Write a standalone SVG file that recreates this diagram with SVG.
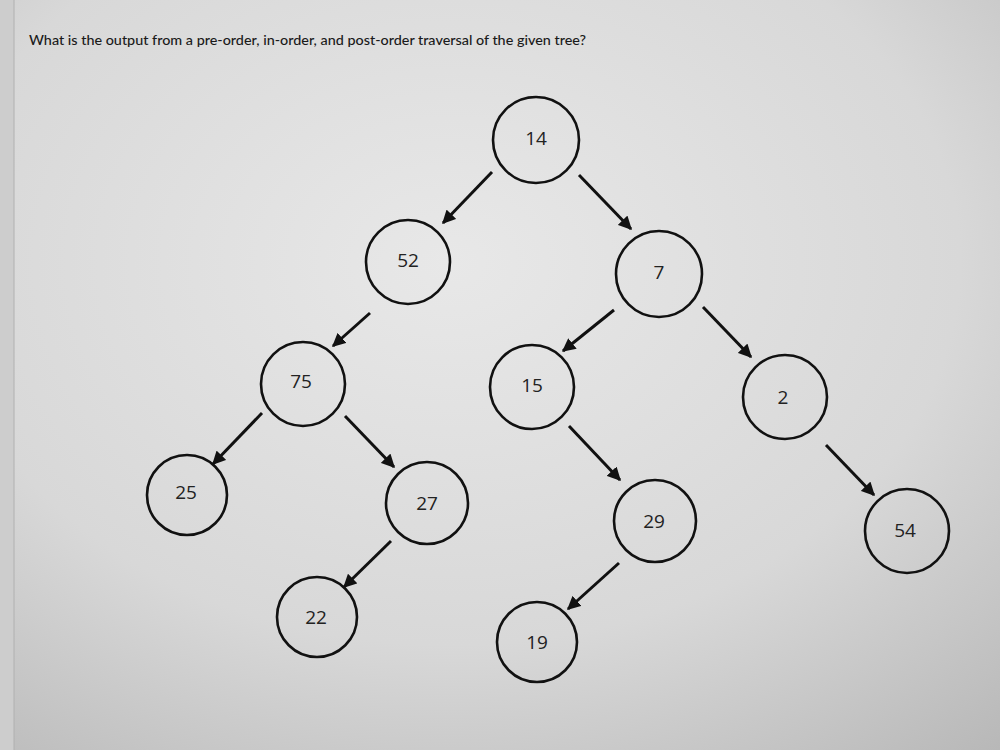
<svg xmlns="http://www.w3.org/2000/svg" width="1000" height="750" viewBox="0 0 1000 750">
  <defs>
    <radialGradient id="bg" cx="0.45" cy="0.35" r="0.85">
      <stop offset="0" stop-color="#e8e8e8"/>
      <stop offset="0.6" stop-color="#d8d8d8"/>
      <stop offset="1" stop-color="#b8b8b8"/>
    </radialGradient>
    <marker id="arr" viewBox="0 0 10 10" refX="9" refY="5" markerWidth="4.5" markerHeight="4.5" orient="auto" markerUnits="strokeWidth">
      <path d="M0,0 L10,5 L0,10 z" fill="#111"/>
    </marker>
    <style>
      .node circle { fill: none; stroke: #111; stroke-width: 2.6; }
      .node text { font-family: "Open Sans", Lato, "Liberation Sans", sans-serif; font-size: 19px; fill: #222; text-anchor: middle; dominant-baseline: central; }
      .edges line { stroke: #111; stroke-width: 3; marker-end: url(#arr); }
      .title { font-family: Lato, "Liberation Sans", sans-serif; font-size: 14px; font-weight: 500; fill: #1a1a1a; }
    </style>
  </defs>
  <rect width="1000" height="750" fill="url(#bg)"/>
  <rect x="0" y="0" width="14" height="750" fill="#cdcdcd"/>
  <line x1="14" y1="0" x2="14" y2="750" stroke="#b0b0b0" stroke-width="1"/>
  <text class="title" x="29" y="45" textLength="557" lengthAdjust="spacingAndGlyphs">What is the output from a pre-order, in-order, and post-order traversal of the given tree?</text>

  <g class="edges">
    <line x1="492" y1="172" x2="443" y2="223"/>
    <line x1="579" y1="175" x2="631" y2="229"/>
    <line x1="370" y1="313" x2="333" y2="346"/>
    <line x1="614" y1="310" x2="563" y2="351"/>
    <line x1="703" y1="307" x2="751" y2="357"/>
    <line x1="262" y1="413" x2="213" y2="464"/>
    <line x1="345" y1="416" x2="394" y2="467"/>
    <line x1="569" y1="426" x2="620" y2="480"/>
    <line x1="826" y1="445" x2="874" y2="495"/>
    <line x1="391" y1="541" x2="344" y2="587"/>
    <line x1="619" y1="563" x2="568" y2="609"/>
  </g>

  <g id="n14" class="node"><circle cx="536" cy="140" r="43"/><text x="536" y="138">14</text></g>
  <g id="n52" class="node"><circle cx="408" cy="262" r="42"/><text x="408" y="260">52</text></g>
  <g id="n7" class="node"><circle cx="659" cy="274" r="43"/><text x="659" y="272">7</text></g>
  <g id="n75" class="node"><circle cx="303" cy="384" r="42"/><text x="301" y="381">75</text></g>
  <g id="n15" class="node"><circle cx="532" cy="387" r="42"/><text x="532" y="385">15</text></g>
  <g id="n2" class="node"><circle cx="785" cy="397" r="42"/><text x="783" y="397">2</text></g>
  <g id="n25" class="node"><circle cx="187" cy="495" r="40"/><text x="186" y="492">25</text></g>
  <g id="n27" class="node"><circle cx="427" cy="503" r="41"/><text x="427" y="503">27</text></g>
  <g id="n29" class="node"><circle cx="655" cy="521" r="41"/><text x="654" y="521">29</text></g>
  <g id="n54" class="node"><circle cx="907" cy="531" r="42"/><text x="905" y="530">54</text></g>
  <g id="n22" class="node"><circle cx="317" cy="617" r="40"/><text x="316" y="617">22</text></g>
  <g id="n19" class="node"><circle cx="537" cy="642" r="40"/><text x="537" y="642">19</text></g>
</svg>
